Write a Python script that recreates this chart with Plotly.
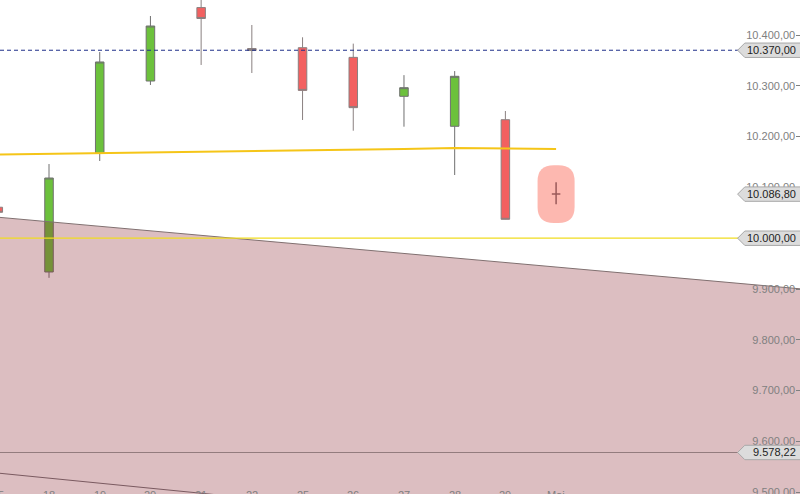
import plotly.graph_objects as go

# ---- data ----
day_labels = ["15", "18", "19", "20", "21", "22", "25", "26", "27", "28", "29", "Mai"]
candle_open = [10061, 9933.5, 10167.7, 10309.4, 10454, 10373.4, 10375, 10356, 10279.3, 10220.3, 10233.3]
candle_high = [10068, 10146, 10366.5, 10437.4, 10474.4, 10419.7, 10395.5, 10383, 10321, 10329, 10250.4]
candle_low = [10045, 9922, 10152, 10301.6, 10341, 10325.2, 10232.7, 10211.6, 10219.5, 10124.4, 10037]
candle_close = [10051, 10118.5, 10346.9, 10417.7, 10432.5, 10369.5, 10291, 10257, 10296.3, 10318.7, 10037.2]

last_price = 10086.8
last_high = 10110
last_low = 10067

sma_x = [-1, 0, 1, 2, 3, 4, 5, 6, 7, 8, 9, 10, 11]
sma_values = [10163.5, 10164.8, 10165.7, 10167.7, 10169, 10170.6, 10171.6, 10173, 10174.2, 10175.6, 10177.6, 10177, 10175.6]

trend_x = [-1, 17]
upper_trend = [10050.2, 9889.8]
lower_trend_x = [-1, 6]
lower_trend = [9547.5, 9478.2]

level_resistance = 10370.0
level_round = 10000.0
level_support = 9578.22

y_ticks = [9500, 9600, 9700, 9800, 9900, 10000, 10100, 10200, 10300, 10400]

# ---- figure ----
idx = list(range(len(candle_open)))
FONT = "Liberation Sans, Arial, sans-serif"
X_RANGE = [0.0335, 15.81]
PX_PER_DAY = 800 / (X_RANGE[1] - X_RANGE[0])

fig = go.Figure()

fig.add_trace(go.Candlestick(
    x=idx, open=candle_open, high=candle_high, low=candle_low, close=candle_close,
    increasing=dict(fillcolor="#6cc13c", line=dict(color="#707070", width=1)),
    decreasing=dict(fillcolor="#f26060", line=dict(color="#8a8080", width=1)),
    showlegend=False, hoverinfo="skip",
))

# current (open) candle "+"
fig.add_trace(go.Candlestick(
    x=[len(candle_open)], open=[last_price], high=[last_high], low=[last_low], close=[last_price],
    increasing=dict(fillcolor="#9a5a5a", line=dict(color="#9a5a5a", width=1.5)),
    decreasing=dict(fillcolor="#9a5a5a", line=dict(color="#9a5a5a", width=1.5)),
    showlegend=False, hoverinfo="skip",
))

# trend channel fill (drawn over candles)
fig.add_trace(go.Scatter(
    x=trend_x, y=upper_trend, mode="lines", fill="tozeroy",
    fillcolor="rgba(140,40,50,0.3)", line=dict(color="#807070", width=1),
    showlegend=False, hoverinfo="skip",
))
fig.add_trace(go.Scatter(
    x=lower_trend_x, y=lower_trend, mode="lines",
    line=dict(color="#7a5a60", width=1), showlegend=False, hoverinfo="skip",
))

# moving average
fig.add_trace(go.Scatter(
    x=sma_x, y=sma_values, mode="lines", line=dict(color="#f5c518", width=2),
    showlegend=False, hoverinfo="skip",
))

shapes = []
# pill behind the current candle
cx = len(candle_open)
hw, hh = 0.365, 57.0
rx, ry = 0.32, 31.5
x0, x1 = cx - hw, cx + hw
y0, y1 = last_price - hh, last_price + hh
pill = (f"M {x0+rx},{y1} L {x1-rx},{y1} Q {x1},{y1} {x1},{y1-ry} "
        f"L {x1},{y0+ry} Q {x1},{y0} {x1-rx},{y0} L {x0+rx},{y0} "
        f"Q {x0},{y0} {x0},{y0+ry} L {x0},{y1-ry} Q {x0},{y1} {x0+rx},{y1} Z")
shapes.append(dict(type="path", path=pill, xref="x", yref="y", layer="below",
                   fillcolor="#fdb8b0", line=dict(width=0)))

# horizontal levels
shapes.append(dict(type="line", xref="paper", yref="y", x0=0, x1=1, y0=level_resistance, y1=level_resistance,
                   line=dict(color="#1f2f8a", width=1, dash="4px,3px")))
shapes.append(dict(type="line", xref="paper", yref="y", x0=0, x1=1, y0=level_round, y1=level_round,
                   line=dict(color="#f0dc20", width=1.2)))
shapes.append(dict(type="line", xref="paper", yref="y", x0=0, x1=1, y0=level_support, y1=level_support,
                   line=dict(color="#937c7e", width=1.2)))

# price tags on the right
tag_h = 7.2 / 0.508
tip, body = 0.922, 0.931
annotations = []
for val in [level_resistance, last_price, level_round, level_support]:
    p = (f"M {tip},{val} L {body},{val+tag_h} L 1.01,{val+tag_h} "
         f"L 1.01,{val-tag_h} L {body},{val-tag_h} Z")
    shapes.append(dict(type="path", path=p, xref="paper", yref="y", layer="above",
                       fillcolor="#dcdcdc", line=dict(color="#a8a8a8", width=1)))
    txt = f"{val:,.2f}".replace(",", "X").replace(".", ",").replace("X", ".")
    annotations.append(dict(x=1, y=val, xref="paper", yref="y", xanchor="right", yanchor="middle",
                            xshift=-2, text=txt, showarrow=False,
                            font=dict(family=FONT, size=11, color="#222222")))

# x labels (cut off at the bottom edge as in the original)
for i, lab in enumerate(day_labels):
    xa = max(i, X_RANGE[0])
    annotations.append(dict(x=xa, y=0, xref="x", yref="paper", xanchor="center", yanchor="top",
                            xshift=(i - xa) * PX_PER_DAY, yshift=7, text=lab, showarrow=False,
                            font=dict(family=FONT, size=11, color="#808080")))

fig.update_layout(
    width=800, height=494,
    margin=dict(l=0, r=0, t=0, b=0, autoexpand=False),
    paper_bgcolor="white", plot_bgcolor="white",
    separators=",.",
    boxgap=0.76,
    shapes=shapes, annotations=annotations,
    font=dict(family=FONT, size=11, color="#808080"),
    xaxis=dict(range=X_RANGE, showgrid=False, zeroline=False, showticklabels=False,
               showline=False, ticks="", rangeslider=dict(visible=False), fixedrange=True,
               automargin=False),
    yaxis=dict(range=[9496.5, 10468.9], side="right", tickvals=y_ticks, tickformat=",.2f",
               ticklabelposition="inside", ticklabeloverflow="allow", automargin=False,
               ticks="inside", ticklen=4, tickcolor="#808080",
               showgrid=False, zeroline=False, showline=False,
               tickfont=dict(family=FONT, size=11, color="#808080")),
)

fig.write_html("out.html", config={"displayModeBar": False},
               post_script="document.body.style.margin='0';document.body.style.overflow='hidden';")
